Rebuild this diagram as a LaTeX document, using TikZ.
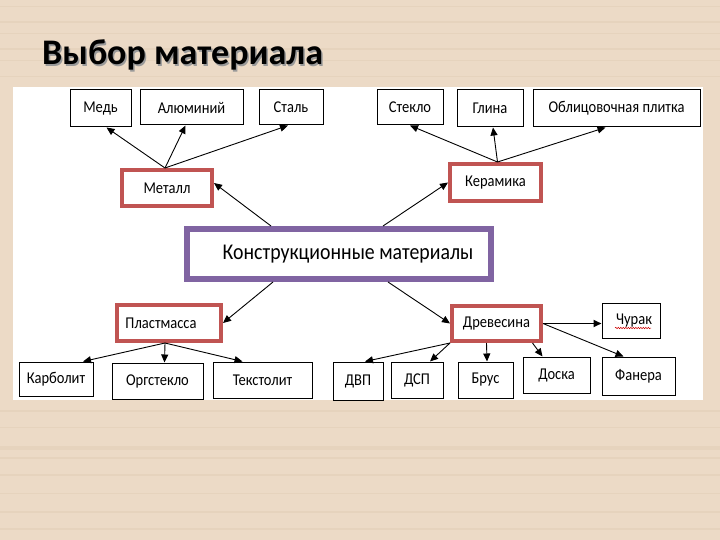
\documentclass[tikz,border=0pt]{standalone}
\usepackage{fontspec}
\setmainfont{Carlito}
\newfontfamily\schemefont[FakeStretch=0.88]{Carlito}
\usetikzlibrary{arrows.meta,calc,decorations.pathmorphing}

\definecolor{woodbg}{RGB}{236,218,198}
\definecolor{woodline}{RGB}{226,205,182}
\definecolor{groupred}{RGB}{192,84,82}
\definecolor{rootpurple}{RGB}{128,100,162}

\tikzset{
  item/.style={draw=black, line width=1pt, fill=white, inner sep=0pt,
    font=\schemefont\fontsize{16.5}{19}\selectfont},
  group/.style={draw=groupred, line width=4pt, fill=white, inner sep=0pt,
    font=\schemefont\fontsize{16.5}{19}\selectfont},
  root/.style={draw=rootpurple, line width=5pt, fill=white, inner sep=0pt,
    font=\schemefont\fontsize{22.5}{26}\selectfont},
  link/.style={line width=0.9pt, -{Triangle[length=8pt,width=7pt]}},
}

\begin{document}
\begin{tikzpicture}[x=1pt,y=-1pt]

    % фон
    \useasboundingbox (0,0) rectangle (720,540);
    \fill[woodbg] (0,0) rectangle (720,540);
    \foreach \yy/\hh in {6/1.5,21/2,33/1,48/2.5,60/1,76/1.5,410/1.5,427/1,446/4,457/2,474/1.5,493/1,511/2,528/1.5}
        \fill[woodline, opacity=0.5] (0,\yy) rectangle (720,\yy+\hh);
    \fill[white] (13,87) rectangle (703,400);

    % заголовок
    \node[anchor=base west, inner sep=0pt, text=black!40, font=\fontsize{36}{42}\bfseries] (titleshadow) at (43.5,66.5) {Выбор материала};
    \node[anchor=base west, inner sep=0pt, font=\fontsize{36}{42}\bfseries] (title) at (42,65) {Выбор материала};

    % корень
    \node[root, minimum width=305pt, minimum height=51pt] (kons) at (339,254) {\hspace*{18pt}Конструкционные материалы};
    \draw[rootpurple, line width=1.5pt] ($(kons.north west)+(5,5)$) rectangle ($(kons.south east)+(-5,-5)$);

    % группы
    \node[group, minimum width=90pt, minimum height=36pt] (metal) at (167,188) {Металл};
    \node[group, minimum width=91pt, minimum height=37pt] (ker) at (495.5,182.5) {Керамика};
    \node[group, minimum width=104pt, minimum height=36pt] (plast) at (169,323) {Пластмасса\hspace*{16pt}};
    \node[group, minimum width=89pt, minimum height=35pt] (drev) at (496.5,323.5) {Древесина};

    % металлы
    \node[item, minimum width=61pt, minimum height=37pt] (med) at (100.5,108.5) {Медь};
    \node[item, minimum width=103pt, minimum height=35pt] (alum) at (191.5,107.5) {Алюминий};
    \node[item, minimum width=64pt, minimum height=35pt] (stal) at (291,107.5) {Сталь};

    % керамика
    \node[item, minimum width=66pt, minimum height=35pt] (steklo) at (410,107.5) {Стекло};
    \node[item, minimum width=66pt, minimum height=37pt] (glina) at (490,108.5) {Глина};
    \node[item, minimum width=167pt, minimum height=37pt] (plitka) at (616.5,108.5) {Облицовочная плитка};

    % пластмассы
    \node[item, minimum width=74pt, minimum height=34pt] (karb) at (56,379) {Карболит};
    \node[item, minimum width=91pt, minimum height=36pt] (org) at (157.5,381) {Оргстекло};
    \node[item, minimum width=99pt, minimum height=36pt] (tekst) at (262.5,380) {Текстолит};

    % древесина
    \node[item, minimum width=50pt, minimum height=38pt] (dvp) at (358,381) {ДВП};
    \node[item, minimum width=52pt, minimum height=36pt] (dsp) at (417,380) {ДСП};
    \node[item, minimum width=55pt, minimum height=36pt] (brus) at (485.5,380) {Брус};
    \node[item, minimum width=67pt, minimum height=36pt] (doska) at (556.5,375) {Доска};
    \node[item, minimum width=58pt, minimum height=35pt] (churak) at (631,320.5) {\hspace*{6pt}Чурак};
    \node[item, minimum width=73pt, minimum height=38pt] (fanera) at (638.5,376) {Фанера};
    \draw[red!80!black, line width=0.5pt, decorate, decoration={snake, amplitude=0.7pt, segment length=2.5pt}]
        ($(churak.center)+(-16,7.5)$) -- ($(churak.center)+(20,7.5)$);

    % связи от корня
    \draw[link] ($(kons.north west)+(87,0)$) -- ($(metal.east)+(0,-5)$);
    \draw[link] ($(kons.north west)+(199,0)$) -- (ker.west);
    \draw[link] ($(kons.south west)+(89,0)$) -- (plast.east);
    \draw[link] ($(kons.south west)+(204,0)$) -- (drev.west);

    % металл
    \draw[link] ($(metal.north)+(-2,0)$) -- ($(med.south)+(6,0)$);
    \draw[link] ($(metal.north)+(-2,0)$) -- ($(alum.south)+(-6,0)$);
    \draw[link] ($(metal.north)+(-2,0)$) -- ($(stal.south)+(-3,0)$);

    % керамика
    \draw[link] ($(ker.north)+(2,0)$) -- (steklo.south);
    \draw[link] ($(ker.north)+(2,0)$) -- ($(glina.south)+(3,0)$);
    \draw[link] ($(ker.north)+(2,0)$) -- ($(plitka.south)+(-11,0)$);

    % пластмасса
    \draw[link] ($(plast.south)+(-4,0)$) -- ($(karb.north)+(27,0)$);
    \draw[link] ($(plast.south)+(-4,0)$) -- ($(org.north)+(7,0)$);
    \draw[link] ($(plast.south)+(-4,0)$) -- ($(tekst.north)+(-20,0)$);

    % древесина
    \draw[link] (drev.south west) -- ($(dvp.north)+(7,0)$);
    \draw[link] (drev.south west) -- ($(dsp.north)+(13,0)$);
    \draw[link] ($(drev.south)+(-10,0)$) -- ($(brus.north)+(1.5,0)$);
    \draw[link] ($(drev.south)+(36,0)$) -- ($(doska.north)+(-14,0)$);
    \draw[link, line width=1.8pt] (drev.east) -- (drev.east -| churak.west);
    \draw[link] (drev.east) -- ($(fanera.north)+(-15,0)$);
\end{tikzpicture}
\end{document}
